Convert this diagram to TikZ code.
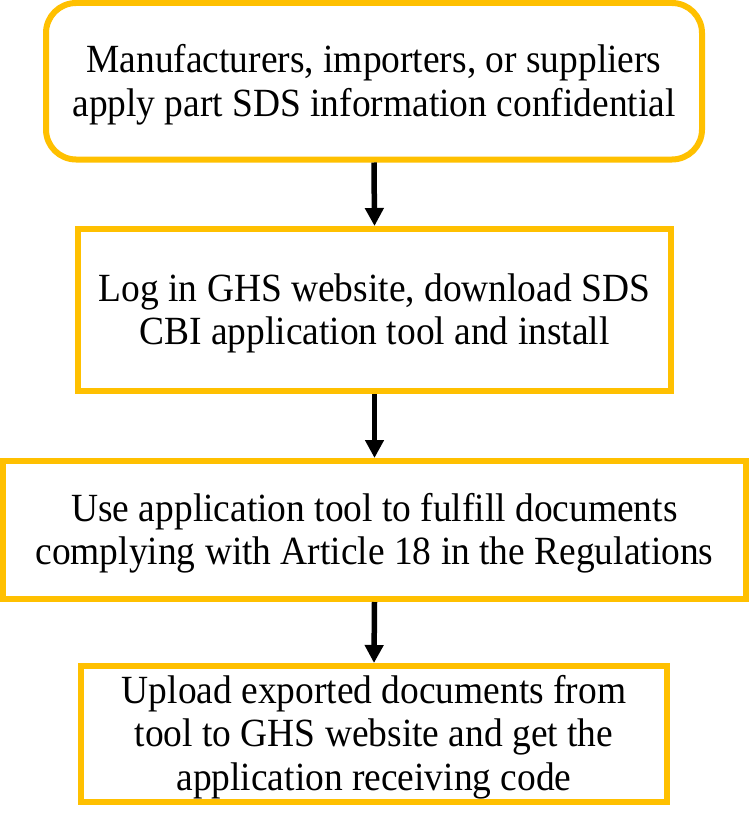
\documentclass[tikz,border=0pt]{standalone}
\usepackage{fontspec}
\setmainfont{Liberation Serif}[FakeStretch=0.936]
\usepackage{xcolor}
\usetikzlibrary{arrows.meta}
\definecolor{ghsgold}{HTML}{FFC000}
\newcommand{\firstline}{\rule{0pt}{35pt}}

\begin{document}
\begin{tikzpicture}[x=1pt, y=-1pt,
        box/.style={rectangle,draw,line width=6pt,ghsgold,fill=white,text=black,
      align=center,inner sep=0pt,font=\fontsize{40}{43.5}\selectfont},
        roundbox/.style={box,rounded corners=30pt},
        unidirectional/.style={line width=5.5pt,black,
      -{Triangle[width=18pt,length=18pt]}}]
        \useasboundingbox (0,0) rectangle (749,824);

	\node [roundbox,minimum width=656pt,minimum height=156.5pt] (b1) at (374, 81.25)
      {\firstline Manufacturers, importers, or suppliers\\apply part SDS information confidential};
        \node [box,minimum width=593pt,minimum height=162pt] (b2) at (374.5, 310)
      {\firstline Log in GHS website, download SDS\\CBI application tool and install};
        \node [box,minimum width=743pt,minimum height=138pt] (b3) at (374.5, 530)
      {\firstline Use application tool to fulfill documents\\complying with Article 18 in the Regulations};
        \node [box,minimum width=586pt,minimum height=135.5pt] (b4) at (374, 733.75)
      {\firstline Upload exported documents from\\tool to GHS website and get the\\application receiving code};

        \draw [unidirectional] (b1.south) -- (b2.north);
        \draw [unidirectional] (b2.south) -- (b3.north);
        \draw [unidirectional] (b3.south) -- (b4.north);
\end{tikzpicture}
\end{document}
